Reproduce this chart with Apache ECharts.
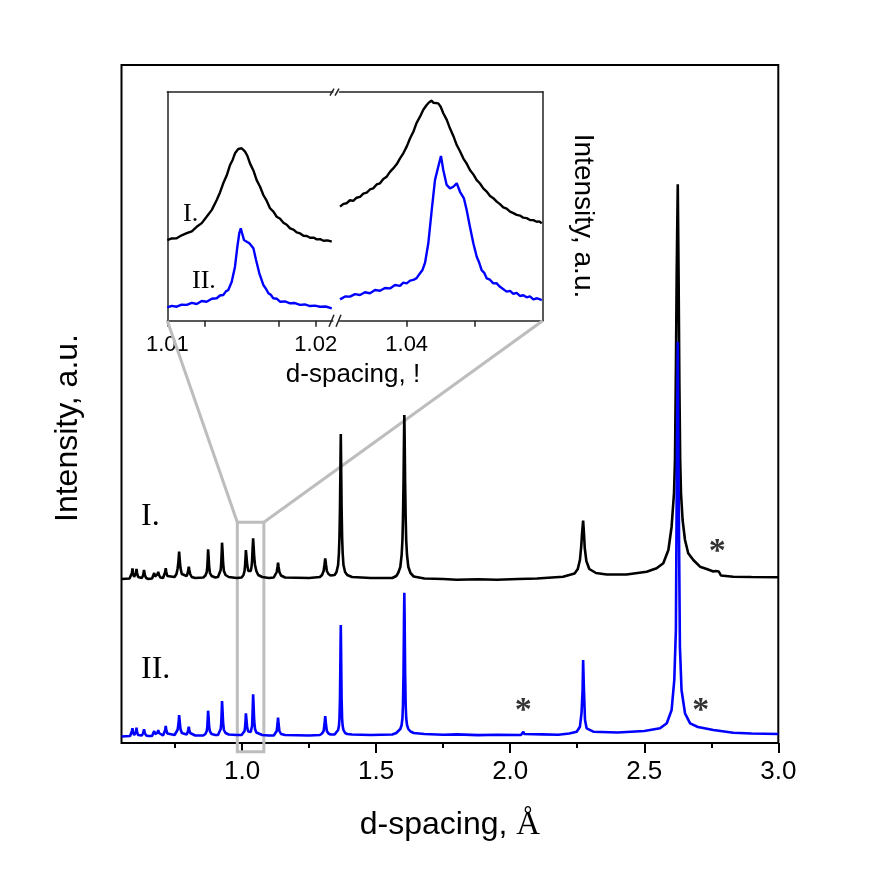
<!DOCTYPE html>
<html>
<head>
<meta charset="utf-8">
<script src="https://cdn.jsdelivr.net/npm/echarts@6/dist/echarts.min.js"></script>
<style>
  html, body { margin: 0; padding: 0; background: #fff; }
  #main { width: 871px; height: 876px; }
</style>
</head>
<body>
<div id="main"></div>
<script>
// ===== Data =====
// main pattern: d-spacing (Å) vs intensity (a.u., curves offset)
const blackMain = [
  [0.550,164],[0.580,164.5],[0.586,166],[0.589,170],[0.591,174.7],[0.593,170],[0.597,166],
  [0.601,166],[0.604,170],[0.606,174],[0.608,170],[0.612,166],[0.618,164.5],
  [0.626,165],[0.631,168],[0.634,173],[0.637,168],[0.642,165],[0.650,164],
  [0.664,164.5],[0.669,166.5],[0.672,170],[0.675,166.5],
  [0.681,166],[0.685,169],[0.687,171.3],[0.690,168],[0.695,165.5],
  [0.705,165],[0.710,167],[0.713,171],[0.715,174.7],[0.717,171],[0.721,167],[0.728,165.5],
  [0.748,166],[0.755,169],[0.759,174],[0.761,178],[0.763,184],[0.765,191.3],[0.767,184],[0.770,175],[0.775,169],[0.781,167],
  [0.793,167],[0.797,170],[0.799,173],[0.801,176.3],[0.803,173],[0.806,169],[0.812,166],[0.825,165],
  [0.855,165.5],[0.863,167.5],[0.868,171],[0.870,176],[0.872,186],[0.873,193.7],[0.875,186],[0.877,176],[0.880,170],[0.886,167],[0.900,165.5],
  [0.910,166],[0.916,168],[0.920,173],[0.922,180],[0.924,192],[0.925,200.3],[0.927,192],[0.929,180],[0.932,172],[0.938,168],[0.950,166],[0.980,165],
  [0.998,165.5],[1.005,168],[1.009,172],[1.011,178],[1.013,187],[1.014,193],[1.016,187],[1.019,178],[1.023,172],[1.028,170],
  [1.032,172],[1.035,176],[1.037,182],[1.039,194],[1.041,204.7],[1.043,196],[1.045,186],[1.048,178],[1.053,172],[1.060,168],[1.075,166],[1.100,165],
  [1.118,165.5],[1.125,167.5],[1.129,171],[1.132,176],[1.134,180.3],[1.136,176],[1.139,171],[1.145,167.5],[1.160,165.5],[1.250,165],
  [1.290,166],[1.298,168],[1.304,172],[1.307,178],[1.310,184.7],[1.313,178],[1.316,172],[1.322,169],[1.330,167.5],
  [1.345,168],[1.352,171],[1.358,178],[1.361,190],[1.363,205],[1.365,235],[1.367,285],[1.368,309],[1.369,285],[1.371,235],[1.373,205],[1.375,190],[1.378,178],[1.384,171],[1.392,168],[1.410,166],[1.480,165],
  [1.560,165],[1.575,167],[1.582,170],[1.590,176],[1.595,188],[1.598,203],[1.600,225],[1.602,260],[1.604,310],[1.605,328],[1.606,310],[1.608,260],[1.610,225],[1.612,203],[1.615,188],[1.620,176],[1.628,170],[1.640,166.5],[1.680,164.5],
  [1.750,164],[1.800,163.2],[1.880,163.8],[1.950,163.3],[2.030,164],[2.100,164.5],[2.197,166.3],
  [2.240,169.5],[2.252,174],[2.260,183],[2.265,197],[2.268,210],[2.272,222.3],[2.275,210],[2.278,195],[2.284,182],[2.295,174],[2.320,170],[2.360,168.5],[2.434,168.5],
  [2.509,171.3],[2.546,174.7],[2.571,179.7],
  [2.590,193],[2.602,216.3],[2.611,250],[2.6146,283],[2.6183,380],[2.621,470],[2.625,558.7],[2.628,470],[2.631,360],[2.634,283],[2.637,250],[2.643,223],[2.652,203],[2.664,189.7],[2.683,183],
  [2.708,176.3],[2.733,174],[2.758,171.5],[2.766,172],[2.772,172.5],[2.778,171.5],[2.786,167.5],[2.832,166.3],[2.900,166],[3.000,165.7]
];

const blueMain = [
  [0.550,6.5],[0.582,7],[0.587,9],[0.589,12],[0.591,14.7],[0.593,11],[0.597,8],
  [0.601,8],[0.604,11],[0.606,15.3],[0.608,11],[0.612,8],[0.618,7],
  [0.626,7.5],[0.631,10],[0.634,13.7],[0.637,10],[0.642,7.5],[0.650,7],
  [0.664,7],[0.669,9],[0.672,12],[0.675,9],
  [0.681,8],[0.685,10.5],[0.687,13],[0.690,10],[0.695,8],
  [0.705,7.5],[0.710,9.5],[0.713,13],[0.715,17],[0.717,13],[0.721,9.5],[0.728,8],
  [0.748,8],[0.755,10],[0.759,13],[0.762,18],[0.764,24],[0.765,28],[0.767,22],[0.770,14],[0.775,10],[0.781,9],
  [0.793,8.5],[0.797,11],[0.799,13.5],[0.801,16.3],[0.803,13],[0.806,10],[0.812,8],[0.825,7.5],
  [0.855,7.5],[0.863,9],[0.868,12],[0.870,16],[0.872,26],[0.873,32.3],[0.875,25],[0.877,16],[0.880,11.5],[0.886,9],[0.900,8],
  [0.910,8],[0.916,10],[0.920,14],[0.922,20],[0.924,33],[0.925,42],[0.927,32],[0.929,20],[0.932,13],[0.938,10],[0.950,8.5],[0.980,8],
  [0.998,8],[1.005,9.5],[1.009,12],[1.011,16],[1.013,24],[1.014,29.7],[1.016,24],[1.019,15],[1.023,11.5],[1.028,10.5],
  [1.032,11],[1.035,13],[1.037,17],[1.039,30],[1.041,48.7],[1.043,36],[1.045,22],[1.048,14],[1.053,10.5],[1.060,9],[1.075,8],[1.100,7.5],
  [1.118,7.5],[1.125,9],[1.129,12],[1.132,19],[1.134,25.3],[1.136,19],[1.139,12],[1.145,9],[1.160,8],[1.250,7.5],
  [1.290,8],[1.298,9.5],[1.304,12],[1.307,18],[1.310,27],[1.313,18],[1.316,12],[1.322,9.5],[1.330,8.5],
  [1.345,8.5],[1.352,10],[1.358,13],[1.361,17],[1.363,24],[1.365,45],[1.367,95],[1.368,118],[1.369,95],[1.371,45],[1.373,24],[1.375,17],[1.378,13],[1.384,10],[1.392,9],[1.410,8.5],[1.480,8],
  [1.560,8.5],[1.575,10],[1.582,11.5],[1.590,14],[1.595,18],[1.598,25],[1.600,38],[1.602,70],[1.604,130],[1.605,150.3],[1.606,130],[1.608,70],[1.610,38],[1.612,25],[1.615,18],[1.620,14],[1.628,11.5],[1.640,10],[1.680,9],
  [1.750,8.2],[1.800,8.6],[1.880,7.9],[1.950,8.3],
  [2.040,8],[2.046,9],[2.049,11.3],[2.052,9],[2.058,8],[2.120,8.6],[2.180,8.2],[2.220,9.5],
  [2.248,11.3],[2.260,16.3],[2.266,30],[2.270,53],[2.272,83],[2.275,53],[2.279,23],[2.285,14.7],[2.310,11.3],[2.400,10.5],[2.500,12],
  [2.559,14.7],[2.584,19.7],[2.602,33],[2.612,63],[2.618,113],[2.622,293],[2.625,401.3],[2.628,263],[2.633,96.3],[2.639,53],[2.652,29.7],[2.671,19.7],
  [2.700,16],[2.706,17],[2.710,15.5],[2.758,13],[2.832,10.3],[2.900,9.5],[3.000,9]
];

// asterisks marking impurity reflections
const starPoints = [[2.772,199],[2.049,39.7],[2.711,39.7]];

// main x ticks
const xMajorTicks = [1.0, 1.5, 2.0, 2.5, 3.0];
const xMinorTicks = [0.75, 1.25, 1.75, 2.25, 2.75];

// inset (broken x axis)
const insetBlackLeft = [
  [1.0100,35.2],[1.01030,35.9],[1.01063,36.0],[1.01097,37.3],[1.01131,38.2],[1.01165,39.0],[1.01198,41.0],[1.01232,42.6],[1.01265,45.4],
  [1.01300,48.4],[1.01333,52.7],[1.01355,56.0],[1.01377,60.0],[1.01400,63.4],[1.01423,68.0],[1.01440,70.2],[1.01456,73.1],[1.01478,75.0],
  [1.01501,75.3],[1.01524,73.8],[1.01540,71.9],[1.01557,68.7],[1.01580,65.6],[1.01602,61.4],[1.01625,58.5],[1.01647,54.9],[1.01670,52.3],
  [1.01692,49.1],[1.01715,47.6],[1.01737,45.4],[1.01760,44.5],[1.01782,42.8],[1.01805,41.9],[1.01827,40.3],[1.01850,39.8],[1.01872,38.6],
  [1.01895,38.1],[1.01917,37.1],[1.01940,37.0],[1.01962,36.2],[1.01985,36.3],[1.02007,35.5],[1.02030,35.6],[1.02052,34.9],[1.02080,35.1],[1.02108,34.5]
];
const insetBlueLeft = [
  [1.0100,5.8],[1.01030,6.5],[1.01063,6.1],[1.01097,7.0],[1.01131,6.9],[1.01165,7.8],[1.01198,7.3],[1.01232,8.6],[1.01265,8.3],[1.01300,9.6],
  [1.01333,9.8],[1.01355,11.0],[1.01377,11.2],[1.01395,12.8],[1.01411,13.4],[1.01434,17.0],
  [1.01456,23.6],[1.01472,32.3],[1.01485,38.2],[1.01495,40.3],[1.01504,38.2],[1.01517,35.2],[1.01535,34.5],[1.01553,33.8],[1.01566,34.5],
  [1.01580,31.6],[1.01598,26.5],[1.01620,20.7],[1.01647,15.6],[1.01665,13.9],[1.01681,12.0],[1.01697,11.3],[1.01714,9.8],[1.01737,9.6],
  [1.01759,8.3],[1.01793,8.4],[1.01827,7.6],[1.01860,7.7],[1.01894,6.9],[1.01927,7.1],[1.01961,6.4],[1.01995,6.6],[1.02029,6.1],
  [1.02068,6.2],[1.02108,5.4]
];
const insetBlackRight = [
  [1.03510,49.8],[1.03535,51.0],[1.03559,51.3],[1.03583,52.6],[1.03607,52.3],[1.03632,53.7],[1.03657,54.1],[1.03681,55.5],[1.03706,55.9],
  [1.03730,57.3],[1.03754,57.8],[1.03779,59.5],[1.03804,60.0],[1.03828,61.9],[1.03853,62.9],[1.03877,65.0],[1.03901,66.5],[1.03926,68.3],
  [1.03951,70.9],[1.03975,73.1],[1.04000,76.0],[1.04025,79.7],[1.04049,82.5],[1.04073,86.4],[1.04098,89.1],[1.04122,92.1],[1.04147,94.2],
  [1.04165,95.4],[1.04184,96.1],[1.04196,95.2],[1.04208,95.9],[1.04232,94.9],[1.04250,93.4],[1.04269,90.6],[1.04294,87.8],[1.04318,84.0],
  [1.04343,80.7],[1.04368,76.7],[1.04392,74.0],[1.04416,70.9],[1.04440,68.7],[1.04465,65.8],[1.04490,63.9],[1.04515,61.4],[1.04539,59.9],
  [1.04563,57.8],[1.04588,56.4],[1.04613,54.5],[1.04637,53.5],[1.04662,52.0],[1.04686,50.9],[1.04710,49.5],[1.04735,48.9],[1.04760,47.6],
  [1.04784,47.0],[1.04809,46.2],[1.04833,45.9],[1.04857,45.0],[1.04882,44.8],[1.04907,44.0],[1.04931,43.9],[1.04956,43.2],[1.04975,43.4],[1.04993,42.5]
];
const insetBlueRight = [
  [1.03510,9.3],[1.03547,10.6],[1.03583,10.5],[1.03620,11.6],[1.03657,11.2],[1.03693,12.4],[1.03730,12.0],[1.03767,13.4],[1.03804,13.1],
  [1.03840,14.3],[1.03877,14.1],[1.03914,15.6],[1.03951,15.2],[1.03975,16.6],[1.04000,16.3],[1.04025,17.5],[1.04049,17.8],[1.04073,18.6],
  [1.04098,20.7],[1.04115,22.0],[1.04135,25.3],[1.04159,33.8],[1.04184,48.3],[1.04208,61.4],[1.04232,67.2],[1.04252,71.9],[1.04269,65.8],[1.04294,59.3],
  [1.04318,57.8],[1.04343,58.5],[1.04368,60.0],[1.04379,60.3],[1.04392,56.3],[1.04404,57.1],[1.04421,53.4],[1.04441,48.3],[1.04465,41.0],
  [1.04490,33.8],[1.04515,27.9],[1.04533,25.4],[1.04551,22.1],[1.04570,20.9],[1.04588,18.5],[1.04612,17.9],[1.04637,16.3],[1.04660,16.4],
  [1.04686,14.8],[1.04700,15.6],[1.04735,12.7],[1.04760,13.0],[1.04784,11.7],[1.04808,12.2],[1.04833,10.8],[1.04858,11.1],
  [1.04882,10.2],[1.04906,10.6],[1.04931,9.3],[1.04960,9.8],[1.04993,9.0]
];
const insetLeftTicks = [1.01, 1.0125, 1.0175, 1.02];
const insetLeftLabels = [1.01, 1.02];
const insetRightTicks = [1.04, 1.045];
const insetRightLabels = [1.04];

// region of the main pattern shown enlarged in the inset
const zoomBox = { x0: 0.982, x1: 1.081, yTop: 220.7, yBottom: -8.7 };

// ===== Chart =====
const SANS = '"Liberation Sans", Arial, sans-serif';
const SERIF = '"Liberation Serif", "Times New Roman", serif';
const GRAY = '#bdbdbd';

const chart = echarts.init(document.getElementById('main'), null, { renderer: 'canvas' });

const insetTop = 91.7, insetH = 229;
const insetAxisLine = { show: true, onZero: false, lineStyle: { color: '#222', width: 1.5 } };

function insetX(min, max, ticks, labels, gridIndex) {
  return [
    {
      type: 'value', gridIndex, min, max, position: 'bottom',
      axisLine: insetAxisLine,
      axisTick: { show: true, inside: false, length: 6, customValues: ticks, lineStyle: { color: '#222', width: 1.5 } },
      axisLabel: { show: true, customValues: labels, margin: 13, color: '#000', fontFamily: SANS, fontSize: 22,
        formatter: v => v.toFixed(2) },
      splitLine: { show: false }
    },
    {
      type: 'value', gridIndex, min, max, position: 'top',
      axisLine: insetAxisLine, axisTick: { show: false }, axisLabel: { show: false }, splitLine: { show: false }
    }
  ];
}

const option = {
  animation: false,
  backgroundColor: '#fff',
  grid: [
    { left: 121.5, right: 92.7, top: 65, bottom: 133, show: true, borderColor: '#000', borderWidth: 2, backgroundColor: 'transparent' },
    { left: 167.3, top: insetTop, width: 165.5, height: insetH },
    { left: 339.5, top: insetTop, width: 203.2, height: insetH }
  ],
  xAxis: [
    {
      type: 'value', gridIndex: 0, min: 0.55, max: 3.0, position: 'bottom',
      axisLine: { show: false, onZero: false },
      axisTick: { show: true, inside: false, length: 10, customValues: xMajorTicks, lineStyle: { color: '#000', width: 2 } },
      axisLabel: { show: true, customValues: xMajorTicks, margin: 16, color: '#000', fontFamily: SANS, fontSize: 26,
        formatter: v => v.toFixed(1) },
      splitLine: { show: false }
    },
    {
      type: 'value', gridIndex: 0, min: 0.55, max: 3.0, position: 'bottom',
      axisLine: { show: false, onZero: false },
      axisTick: { show: true, inside: false, length: 5, customValues: xMinorTicks, lineStyle: { color: '#000', width: 2 } },
      axisLabel: { show: false }, splitLine: { show: false }
    },
    ...insetX(1.01, 1.02115, insetLeftTicks, insetLeftLabels, 1),
    ...insetX(1.03506, 1.05, insetRightTicks, insetRightLabels, 2)
  ],
  yAxis: [
    { type: 'value', gridIndex: 0, min: 0, max: 678, show: false, splitLine: { show: false } },
    { type: 'value', gridIndex: 1, min: 0, max: 100, position: 'left',
      axisLine: insetAxisLine, axisTick: { show: false }, axisLabel: { show: false }, splitLine: { show: false } },
    { type: 'value', gridIndex: 2, min: 0, max: 100, position: 'right',
      axisLine: insetAxisLine, axisTick: { show: false }, axisLabel: { show: false }, splitLine: { show: false } }
  ],
  series: [
    { name: 'I.', type: 'line', xAxisIndex: 0, yAxisIndex: 0, data: blackMain, showSymbol: false, symbol: 'none',
      lineStyle: { color: '#000', width: 2.6 }, z: 3 },
    { name: 'II.', type: 'line', xAxisIndex: 0, yAxisIndex: 0, data: blueMain, showSymbol: false, symbol: 'none',
      lineStyle: { color: '#0000ff', width: 2.6 }, z: 4 },
    { type: 'scatter', xAxisIndex: 0, yAxisIndex: 0, data: starPoints, symbol: 'circle', symbolSize: 2,
      itemStyle: { color: 'rgba(0,0,0,0)' }, silent: true,
      label: { show: true, position: 'inside', formatter: '*', offset: [0, 8], color: '#000', fontFamily: SERIF,
        fontWeight: 'bold', fontSize: 34, textBorderWidth: 0 }, z: 5 },
    { type: 'line', xAxisIndex: 2, yAxisIndex: 1, data: insetBlackLeft, showSymbol: false, symbol: 'none',
      lineStyle: { color: '#000', width: 2.4 } },
    { type: 'line', xAxisIndex: 2, yAxisIndex: 1, data: insetBlueLeft, showSymbol: false, symbol: 'none',
      lineStyle: { color: '#0000ff', width: 2.4 } },
    { type: 'line', xAxisIndex: 4, yAxisIndex: 2, data: insetBlackRight, showSymbol: false, symbol: 'none',
      lineStyle: { color: '#000', width: 2.4 } },
    { type: 'line', xAxisIndex: 4, yAxisIndex: 2, data: insetBlueRight, showSymbol: false, symbol: 'none',
      lineStyle: { color: '#0000ff', width: 2.4 } }
  ]
};

chart.setOption(option);

// ===== Annotations =====
const toMain = pt => chart.convertToPixel({ xAxisIndex: 0, yAxisIndex: 0 }, pt);
const boxTL = toMain([zoomBox.x0, zoomBox.yTop]);
const boxBR = toMain([zoomBox.x1, zoomBox.yBottom]);
const insetBL = chart.convertToPixel({ xAxisIndex: 2, yAxisIndex: 1 }, [1.01, 0]);
const insetBR = chart.convertToPixel({ xAxisIndex: 4, yAxisIndex: 2 }, [1.05, 0]);

const txt = (x, y, text, font, rotation) => ({
  type: 'text', x, y, rotation: rotation || 0, z: 10,
  style: { text, font, fill: '#000', align: 'center', verticalAlign: 'middle' }
});
const seg = (x1, y1, x2, y2, color, width) => ({
  type: 'line', z: 1, shape: { x1, y1, x2, y2 }, style: { stroke: color, lineWidth: width }
});

const gapX = 336;
chart.setOption({
  graphic: [
    // zoom box and connector lines
    { type: 'rect', z: 1, shape: { x: boxTL[0], y: boxTL[1], width: boxBR[0] - boxTL[0], height: boxBR[1] - boxTL[1] },
      style: { fill: 'none', stroke: GRAY, lineWidth: 3 } },
    seg(boxTL[0], boxTL[1], insetBL[0], insetBL[1], GRAY, 3),
    seg(boxBR[0], boxTL[1], insetBR[0], insetBR[1], GRAY, 3),
    // axis break marks
    seg(gapX - 6, insetTop + 4, gapX - 2, insetTop - 3, '#222', 1.5),
    seg(gapX - 1, insetTop + 4, gapX + 3, insetTop - 3, '#222', 1.5),
    seg(gapX - 7, insetTop + insetH + 6, gapX - 2, insetTop + insetH - 6, '#222', 1.5),
    seg(gapX, insetTop + insetH + 6, gapX + 5, insetTop + insetH - 6, '#222', 1.5),
    // axis titles
    txt(68, 428, 'Intensity, a.u.', '32px ' + SANS, Math.PI / 2),
    {
      type: 'text', x: 450, y: 825, z: 10,
      style: {
        text: '{a|d-spacing, }{b|Å}', align: 'center', verticalAlign: 'middle',
        rich: { a: { font: '32px ' + SANS, fill: '#000' }, b: { font: '33px ' + SERIF, fill: '#000' } }
      }
    },
    txt(583, 216, 'Intensity, a.u.', '28px ' + SANS, -Math.PI / 2),
    txt(353, 375, 'd-spacing, !', '26px ' + SANS),
    // curve labels
    { type: 'text', x: 141, y: 517, z: 10, style: { text: 'I.', font: '32px ' + SERIF, fill: '#000', align: 'left', verticalAlign: 'middle' } },
    { type: 'text', x: 141, y: 670, z: 10, style: { text: 'II.', font: '32px ' + SERIF, fill: '#000', align: 'left', verticalAlign: 'middle' } },
    { type: 'text', x: 183, y: 214, z: 10, style: { text: 'I.', font: '26px ' + SERIF, fill: '#000', align: 'left', verticalAlign: 'middle' } },
    { type: 'text', x: 192, y: 281, z: 10, style: { text: 'II.', font: '26px ' + SERIF, fill: '#000', align: 'left', verticalAlign: 'middle' } }
  ]
});
</script>
</body>
</html>
